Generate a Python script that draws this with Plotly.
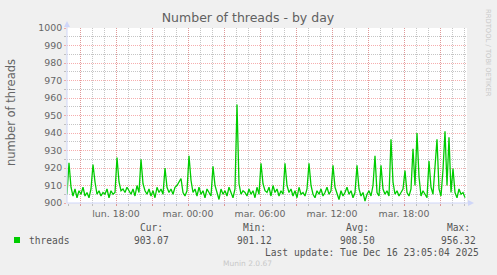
import pandas as pd
import plotly.graph_objects as go

# ---- data (one point every 10 minutes) ----
start_time = "2025-12-15 13:55"
threads = [
    905, 923, 909, 904, 908, 903, 907, 905, 909, 904, 906, 903, 908, 922, 912, 905, 907, 904, 906, 905,
    908, 903, 907, 905, 906, 926, 912, 907, 908, 906, 909, 907, 905, 908, 904, 910, 906, 925, 911, 907,
    905, 908, 904, 907, 903, 909, 906, 908, 905, 920, 909, 906, 908, 905, 909, 910, 912, 914, 906, 904,
    907, 927, 913, 906, 908, 904, 909, 905, 907, 903, 908, 906, 904, 921, 910, 906, 902, 908, 905, 907,
    904, 909, 906, 903, 908, 956.3, 911, 905, 907, 906, 904, 908, 905, 907, 903, 909, 905, 922.7, 911, 907,
    906, 909, 904, 910, 906, 908, 904, 907, 905, 922.7, 910, 906, 908, 904, 907, 903, 909, 905, 906, 904,
    908, 922.7, 910, 905, 903, 907, 905, 908, 904, 906, 909, 905, 907, 921.5, 909, 905, 902, 907, 904, 906,
    909, 905, 907, 903, 906, 921.5, 908, 904, 906, 901.1, 905, 907, 904, 910, 927, 906, 904, 921.5, 908, 905,
    907, 904, 936.4, 912, 905, 907, 904, 906, 908, 918.5, 906, 904, 908, 931, 910, 940, 915, 904, 907, 905,
    903, 924, 909, 905, 920.8, 936.4, 908, 904, 919, 941, 910, 937.5, 906, 919.7, 906, 903, 908, 905, 906, 903.07,
]
times = pd.date_range(start=start_time, periods=len(threads), freq="10min")

x_range = ["2025-12-15 13:55", "2025-12-16 23:15"]
y_range = [900, 1000]

tick_vals = ["2025-12-15 15:00", "2025-12-15 18:00", "2025-12-15 21:00", "2025-12-16 00:00",
             "2025-12-16 03:00", "2025-12-16 06:00", "2025-12-16 09:00", "2025-12-16 12:00",
             "2025-12-16 15:00", "2025-12-16 18:00", "2025-12-16 21:00"]
tick_text = ["", "lun. 18:00", "", "mar. 00:00", "", "mar. 06:00", "", "mar. 12:00",
             "", "mar. 18:00", ""]

legend_name = "threads"
stat_labels = ["Cur:", "Min:", "Avg:", "Max:"]
stat_values = ["903.07", "901.12", "908.50", "956.32"]

# ---- styling ----
W, H = 497, 275
L, R, T, B = 67, 467, 28, 203
FONT_COL = "#666666"
AXIS_COL = "#CFD6F8"
MAJ_GRID = "rgba(240,120,120,0.6)"
MIN_GRID = "rgba(140,140,140,0.5)"
LINE_COL = "#00CC00"
DOTS = "1px,1px"


def P(px, py):
    return (px - L) / (R - L), (B - py) / (B - T)


fig = go.Figure()
fig.add_trace(go.Scatter(x=times, y=threads, mode="lines",
                         line=dict(color=LINE_COL, width=1.3), hoverinfo="skip"))

fig.update_layout(
    width=W, height=H,
    margin=dict(l=L, r=W - R, t=T, b=H - B, pad=0),
    paper_bgcolor="#F0F0F0", plot_bgcolor="#FFFFFF",
    showlegend=False,
    font=dict(family="DejaVu Sans", color=FONT_COL),
    title=dict(text="Number of threads - by day", x=248 / W, y=1 - 18 / H,
               xref="container", yref="container", xanchor="center", yanchor="middle",
               font=dict(family="DejaVu Sans", size=12.5, color="#606060")),
)

fig.update_xaxes(
    type="date", range=x_range, tickmode="array", tickvals=tick_vals, ticktext=tick_text,
    showgrid=True, gridcolor=MAJ_GRID, griddash=DOTS, gridwidth=1,
    ticks="outside", ticklen=2, tickcolor=MAJ_GRID, tickfont=dict(size=9.4, color=FONT_COL),
    minor=dict(tickmode="linear", tick0="2025-12-15 00:00", dtick=3600000,
               showgrid=True, gridcolor=MIN_GRID, griddash=DOTS, gridwidth=1,
               ticks="outside", ticklen=2, tickcolor=MIN_GRID),
    showline=False, zeroline=False, fixedrange=True,
)
fig.update_yaxes(
    range=y_range, tickmode="linear", tick0=900, dtick=10,
    showgrid=True, gridcolor=MAJ_GRID, griddash=DOTS, gridwidth=1,
    ticks="outside", ticklen=2, tickcolor=MAJ_GRID, tickfont=dict(size=9.4, color=FONT_COL),
    minor=dict(tickmode="linear", tick0=900, dtick=5, showgrid=True, gridcolor=MIN_GRID,
               griddash=DOTS, gridwidth=1, ticks="outside", ticklen=2, tickcolor=MIN_GRID),
    showline=False, zeroline=False, fixedrange=True,
)

shapes = []
# axes with arrows
x0, y0 = P(L, B)
x1, _ = P(469, B)
shapes.append(dict(type="line", xref="paper", yref="paper", x0=x0, y0=y0, x1=x1, y1=y0,
                   line=dict(color=AXIS_COL, width=1), layer="above"))
_, ytop = P(L, 26)
shapes.append(dict(type="line", xref="paper", yref="paper", x0=x0, y0=y0, x1=x0, y1=ytop,
                   line=dict(color=AXIS_COL, width=1), layer="above"))
a1 = P(468, 200); a2 = P(474, B); a3 = P(468, 206)
shapes.append(dict(type="path", xref="paper", yref="paper",
                   path=f"M {a1[0]},{a1[1]} L {a2[0]},{a2[1]} L {a3[0]},{a3[1]} Z",
                   fillcolor=AXIS_COL, line=dict(width=0), layer="above"))
b1 = P(64, 27); b2 = P(L, 21); b3 = P(70, 27)
shapes.append(dict(type="path", xref="paper", yref="paper",
                   path=f"M {b1[0]},{b1[1]} L {b2[0]},{b2[1]} L {b3[0]},{b3[1]} Z",
                   fillcolor=AXIS_COL, line=dict(width=0), layer="above"))
# legend swatch
s0 = P(14, 237); s1 = P(20, 243)
shapes.append(dict(type="rect", xref="paper", yref="paper", x0=s0[0], y0=s1[1], x1=s1[0], y1=s0[1],
                   fillcolor=LINE_COL, line=dict(width=0)))
fig.update_layout(shapes=shapes)

MONO = "DejaVu Sans Mono"
ann = []


def add_text(text, px, py, size, color=FONT_COL, family="DejaVu Sans", xanchor="center", angle=0):
    x, y = P(px, py)
    ann.append(dict(text=text, x=x, y=y, xref="paper", yref="paper", xanchor=xanchor,
                    yanchor="middle", showarrow=False, textangle=angle,
                    font=dict(family=family, size=size, color=color)))


add_text("number of threads", 11, 112, 11.5, angle=-90)
add_text("RRDTOOL / TOBI OETIKER", 488, 53, 6.8, color="#C8C8C8", angle=90)
add_text(legend_name, 26.5, 240, 9.6, family=MONO, xanchor="left", color="#555555")
stat_centers = [151.7, 254.7, 357, 458.8]
for lab, val, cx in zip(stat_labels, stat_values, stat_centers):
    add_text(lab, cx, 227, 9.6, family=MONO, color="#555555")
    add_text(val, cx, 240, 9.6, family=MONO, color="#555555")
add_text("Last update: Tue Dec 16 23:05:04 2025", 372, 252, 9.6, family=MONO, color="#555555")
add_text("Munin 2.0.67", 247.7, 263.5, 7.5, color="#C8C8C8")
fig.update_layout(annotations=ann)

fig.write_html("out.html", config={"displayModeBar": False, "staticPlot": True})
